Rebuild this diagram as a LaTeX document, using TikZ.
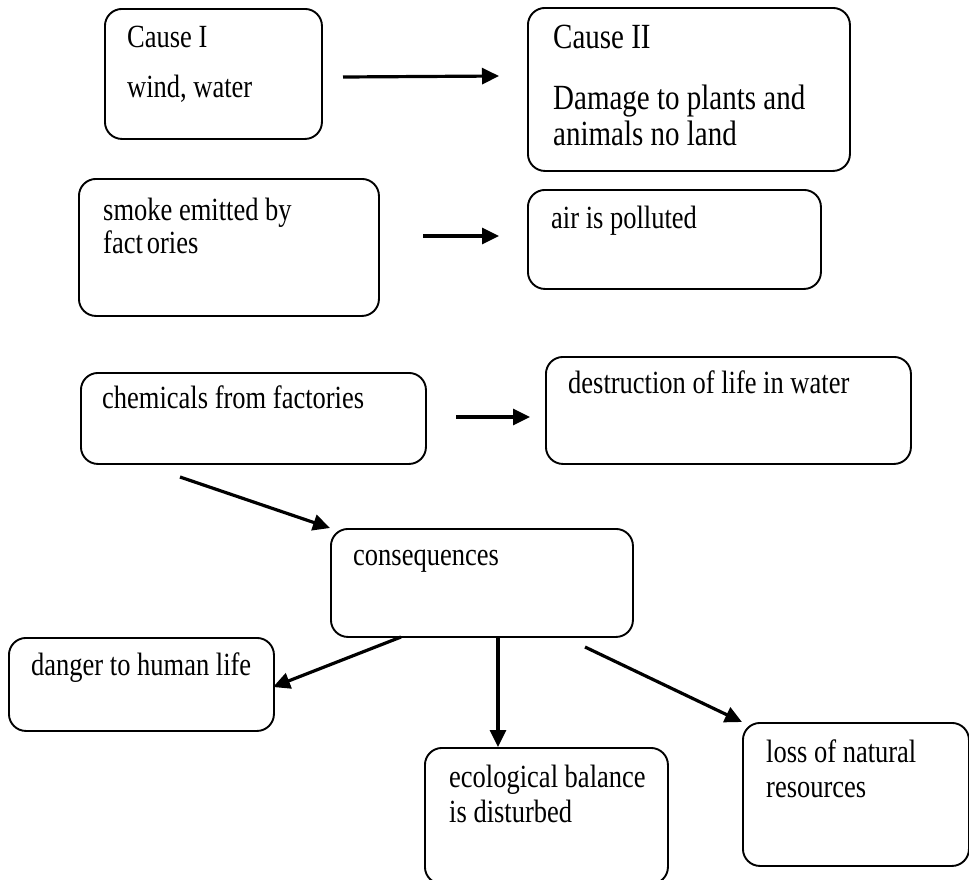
\documentclass[tikz,border=0pt]{standalone}
\usepackage{fontspec}
\setmainfont{Liberation Serif}
\usetikzlibrary{arrows.meta}
\newcommand{\vstretch}[1]{\scalebox{1}[1.22]{#1}}
\tikzset{
  box/.style={draw, line width=1.9pt, rounded corners=17pt, anchor=north west, inner sep=0pt},
  txt/.style={anchor=base west, inner sep=0pt, font=\fontsize{26.5}{30}\selectfont},
  bigtxt/.style={anchor=base west, inner sep=0pt, font=\fontsize{29}{33}\selectfont},
  arr/.style={line width=3.2pt, -{Triangle[length=17pt,width=16pt]}}
}
\begin{document}
\begin{tikzpicture}[x=1pt,y=-1pt]
\useasboundingbox (0,0) rectangle (969,879);
% boxes
\node[box, minimum width=217pt, minimum height=130pt] (a) at (104,8) {};
\node[box, minimum width=322pt, minimum height=163pt] (b) at (527,7) {};
\node[box, minimum width=300pt, minimum height=137pt] (c) at (78,178) {};
\node[box, minimum width=293pt, minimum height=99pt] (d) at (527,189) {};
\node[box, minimum width=345pt, minimum height=91pt] (e) at (80,372) {};
\node[box, minimum width=365pt, minimum height=107pt] (f) at (545,356) {};
\node[box, minimum width=302pt, minimum height=108pt] (g) at (330,528) {};
\node[box, minimum width=265pt, minimum height=93pt] (h) at (8,637) {};
\node[box, minimum width=243pt, minimum height=136pt] (i) at (424,747) {};
\node[box, minimum width=226pt, minimum height=143pt] (j) at (742,722) {};
% texts
\node[txt] (ta1) at (127,47) {\vstretch{Cause I}};
\node[txt] (ta2) at (127,97) {\vstretch{wind, water}};
\node[bigtxt] (tb1) at (553,48) {\vstretch{Cause II}};
\node[bigtxt] (tb2) at (553,109) {\vstretch{Damage to plants and}};
\node[bigtxt] (tb3) at (553,145) {\vstretch{animals no land}};
\node[txt] (tc1) at (103,220) {\vstretch{smoke emitted by}};
\node[txt] (tc2) at (103,253) {\vstretch{fact\kern4pt ories}};
\node[txt] (td1) at (551,228) {\vstretch{air is polluted}};
\node[txt] (te1) at (102,408) {\vstretch{chemicals from factories}};
\node[txt] (tf1) at (568,393) {\vstretch{destruction of life in water}};
\node[txt] (tg1) at (353,565) {\vstretch{consequences}};
\node[txt] (th1) at (31,675) {\vstretch{danger to human life}};
\node[txt] (ti1) at (449,787) {\vstretch{ecological balance}};
\node[txt] (ti2) at (449,822) {\vstretch{is disturbed}};
\node[txt] (tj1) at (766,762) {\vstretch{loss of natural}};
\node[txt] (tj2) at (766,797) {\vstretch{resources}};
% connector end points
\coordinate (ab1) at (343,77);
\coordinate (ab2) at (499,76);
\coordinate (cd1) at (423,236);
\coordinate (cd2) at (499,236);
\coordinate (ef1) at (456,417);
\coordinate (ef2) at (530,417);
\coordinate (eg1) at (180,477);
\coordinate (gh1) at (401,637);
\coordinate (gj1) at (585,647);
% connectors
\draw[arr] (ab1) -- (ab2);
\draw[arr] (cd1) -- (cd2);
\draw[arr] (ef1) -- (ef2);
\draw[arr] (eg1) -- (g.north west);
\draw[arr] (gh1) -- (273,687);
\draw[arr] (498,637) -- (i.north -| 498,0);
\draw[arr] (gj1) -- (j.north west);
\end{tikzpicture}
\end{document}
